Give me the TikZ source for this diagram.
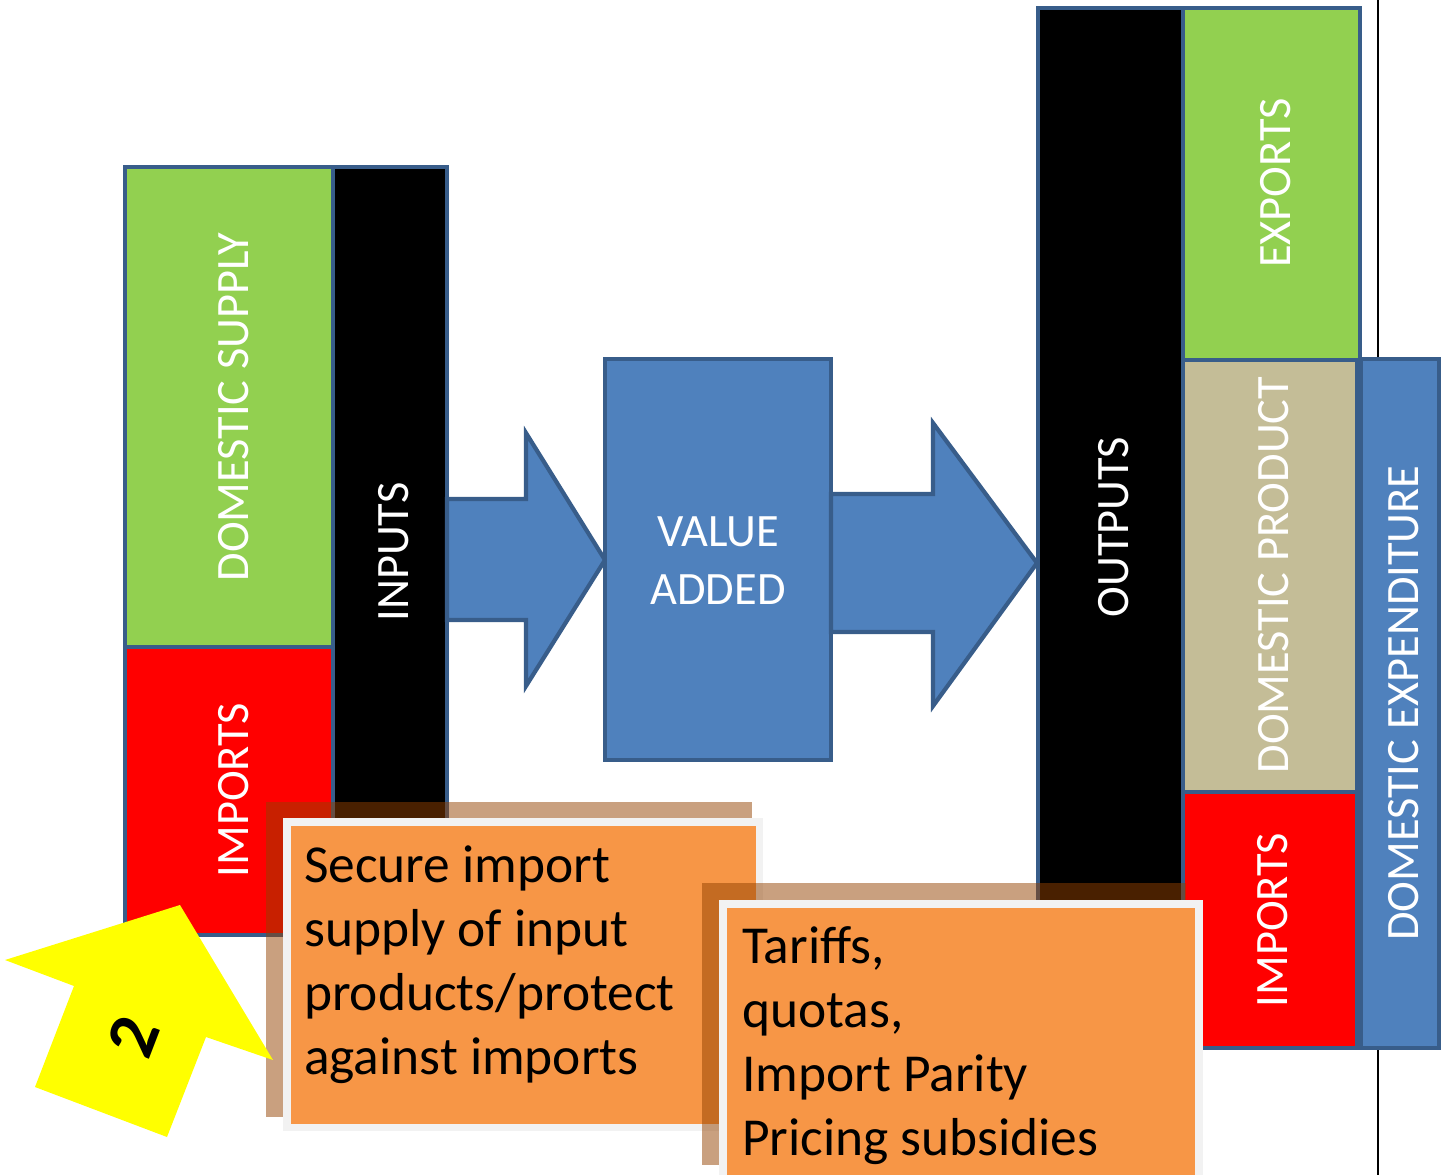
\documentclass[tikz,border=0pt]{standalone}
\usepackage{fontspec}
\setmainfont{Carlito}
\definecolor{bordc}{HTML}{385D8A}
\definecolor{blueF}{HTML}{4F81BD}
\definecolor{greenF}{HTML}{92D050}
\definecolor{tanF}{HTML}{C4BD97}
\definecolor{redF}{HTML}{FF0000}
\definecolor{orangeF}{HTML}{F79646}
\definecolor{grayB}{HTML}{F2F2F2}
\definecolor{shadowC}{HTML}{934100}
\definecolor{yellowF}{HTML}{FFFF00}
\begin{document}
\begin{tikzpicture}[x=0.05cm,y=-0.05cm,
  blk/.style={draw=bordc,line width=6pt,line join=miter},
  lbl/.style={rotate=90,anchor=base,inner sep=0pt,text=white,font=\fontsize{66}{80}\selectfont},
  shade/.style={fill=shadowC,fill opacity=0.5},
  callout/.style={anchor=base west,align=left,inner sep=0pt,text=black,font=\fontsize{76}{91}\selectfont}]
\useasboundingbox (0,0) rectangle (1441,1175);
% thin page line
\draw[black,line width=1.6pt] (1378,0) -- (1378,1175);
% left block
\draw[blk,fill=black] (333,167) rectangle (447,935);
\draw[blk,fill=greenF] (125,167) rectangle (333,647);
\draw[blk,fill=redF] (125,647) rectangle (333,935);
\node[lbl] (ds) at (248,407) {DOMESTIC SUPPLY};
\node[lbl] (inp) at (408,552) {INPUTS};
\node[lbl] (imp1) at (248,790) {IMPORTS};
% arrows and value added
\draw[blk,fill=blueF] (447,499) -- (526,499) -- (526,433) -- (605,560) -- (526,686) -- (526,620) -- (447,620) -- cycle;
\draw[blk,fill=blueF] (605,359) rectangle (831,760);
\node[align=center,inner sep=0pt,text=white,font=\fontsize{66}{82}\selectfont,anchor=base] (va) at (718,604) {VALUE\\ADDED};
\draw[blk,fill=blueF] (831,494) -- (933,494) -- (933,423) -- (1037,563) -- (933,706) -- (933,632) -- (831,632) -- cycle;
% right block
\draw[blk,fill=black] (1038,8) rectangle (1183,1048);
\draw[blk,fill=greenF] (1183,8) rectangle (1360,360);
\draw[blk,fill=tanF] (1183,360) rectangle (1357,792);
\draw[blk,fill=redF] (1183,792) rectangle (1357,1048);
\draw[blk,fill=blueF] (1361,359) rectangle (1439,1048);
\node[lbl] (out) at (1128,527) {OUTPUTS};
\node[lbl] (exp) at (1290,183) {EXPORTS};
\node[lbl] (dp) at (1288,575) {DOMESTIC PRODUCT};
\node[lbl] (imp2) at (1287,920) {IMPORTS};
\node[lbl] (de) at (1418,703) {DOMESTIC EXPENDITURE};
% callout 1
\fill[shade] (266,802) rectangle (752,1117);
\fill[grayB] (283,818) rectangle (763,1131);
\fill[orangeF] (291,826) rectangle (756,1124);
\node[callout] (c1) at (304,1074) {Secure import\\supply of input\\products/protect\\against imports};
% callout 2
\fill[shade] (702,883) rectangle (1186,1165);
\fill[grayB] (719,900) rectangle (1203,1182);
\fill[orangeF] (727,908) rectangle (1195,1175);
\node[callout] (c2) at (742,1155) {Tariffs,\\quotas,\\Import Parity\\Pricing subsidies};
% yellow arrow
\fill[yellowF] (180,905) -- (273,1060) -- (206,1037) -- (167,1137) -- (35,1087) -- (74,986) -- (5,960) -- cycle;
\node[rotate=69,inner sep=0pt,font=\fontsize{100}{100}\selectfont\bfseries] (two) at (133,1037) {2};
\end{tikzpicture}
\end{document}
